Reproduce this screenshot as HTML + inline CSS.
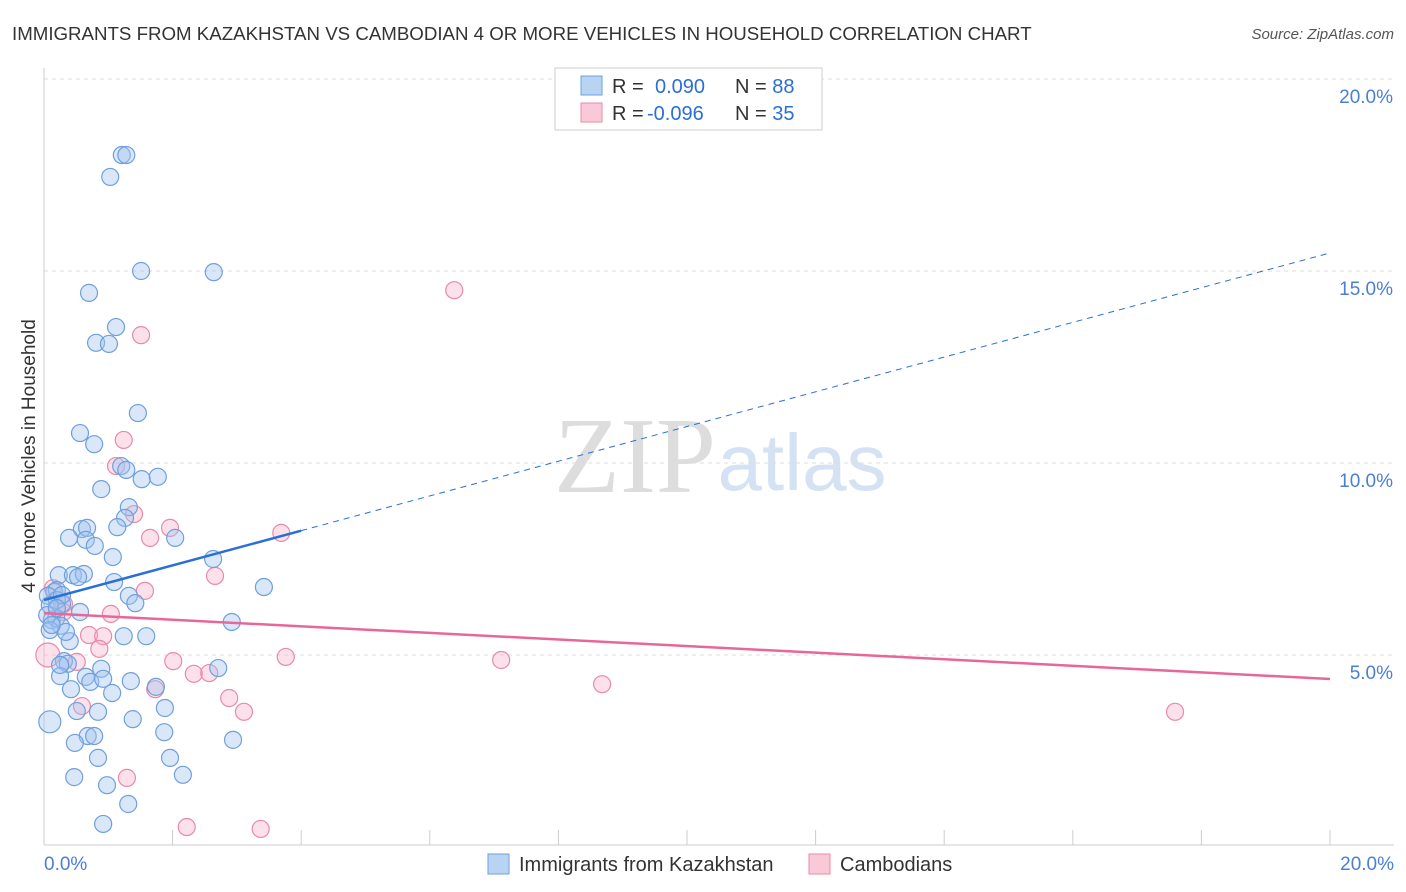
<!DOCTYPE html>
<html><head><meta charset="utf-8"><style>
body{margin:0;background:#fff;font-family:"Liberation Sans",sans-serif;}
#wrap{position:relative;width:1406px;height:892px;overflow:hidden;}
</style></head><body>
<div id="wrap">
<svg id="svg" width="1406" height="892" xmlns="http://www.w3.org/2000/svg">
<text x="12" y="40" font-size="18.7" fill="#333">IMMIGRANTS FROM KAZAKHSTAN VS CAMBODIAN 4 OR MORE VEHICLES IN HOUSEHOLD CORRELATION CHART</text>
<text x="1394" y="39" font-size="15" fill="#555" text-anchor="end" font-style="italic">Source: ZipAtlas.com</text>
<text x="35" y="456" font-size="19" fill="#333" text-anchor="middle" transform="rotate(-90 35 456)">4 or more Vehicles in Household</text>
<g>
<text x="635" y="492" font-size="108" fill="#ddd" font-family="Liberation Serif,serif" text-anchor="middle">ZIP</text>
<text x="802" y="490" font-size="80" fill="#d4e2f4" text-anchor="middle">atlas</text>
</g>
<g id="grid"></g><g id="pts"></g><g id="lines"></g>
<g>
<rect x="555" y="68" width="267" height="62" fill="#fff" stroke="#ccc"/>
<rect x="581" y="76" width="21" height="19" fill="#b9d3f3" stroke="#6fa0dc"/>
<rect x="581" y="103" width="21" height="19" fill="#f9c9d8" stroke="#e88aaa"/>
<text x="612" y="93" font-size="20" fill="#333">R = <tspan fill="#2a6fd6" x="655">0.090</tspan><tspan x="735" fill="#333">N = </tspan><tspan fill="#2a6fd6">88</tspan></text>
<text x="612" y="120" font-size="20" fill="#333">R = <tspan fill="#2a6fd6" x="647">-0.096</tspan><tspan x="735" fill="#333">N = </tspan><tspan fill="#2a6fd6">35</tspan></text>
</g>
<g>
<rect x="488" y="854" width="21" height="20" fill="#b9d3f3" stroke="#6fa0dc"/>
<text x="519" y="871" font-size="20" fill="#333">Immigrants from Kazakhstan</text>
<rect x="809" y="854" width="21" height="20" fill="#f9c9d8" stroke="#e88aaa"/>
<text x="840" y="871" font-size="20" fill="#333">Cambodians</text>
</g>
</svg>
</div>
<script>
const xTicks=[0,2,4,6,8,10,12,14,16,18,20];
const yTicks=[5,10,15,20];
const blueX=[1.21,1.28,1.03,1.51,2.64,0.70,1.12,0.81,1.01,1.46,0.56,0.78,1.20,1.28,1.52,1.77,0.89,1.32,1.26,1.14,0.59,0.67,0.39,0.65,0.79,2.04,2.63,1.07,0.23,0.45,0.62,0.53,3.42,1.09,0.16,0.20,0.06,0.28,1.32,1.42,0.56,0.12,0.19,0.26,2.92,0.40,1.24,1.59,0.31,0.37,0.89,2.71,0.25,0.65,0.72,0.92,1.35,1.74,0.42,1.06,0.84,1.88,0.51,1.38,1.87,0.68,0.78,0.48,2.94,0.09,0.84,1.96,0.47,2.16,0.98,1.31,0.92,0.20,0.09,0.28,0.05,0.09,0.34,0.25,0.12,0.20];
const blueY=[18.02,18.02,17.45,15.0,14.97,14.43,13.54,13.13,13.10,11.30,10.78,10.49,9.92,9.82,9.58,9.64,9.32,8.85,8.57,8.33,8.28,8.31,8.05,8.0,7.84,8.05,7.5,7.55,7.08,7.08,7.11,7.03,6.77,6.9,6.64,6.69,6.54,6.33,6.54,6.35,6.12,5.91,5.96,5.76,5.86,5.36,5.49,5.49,4.84,4.77,4.64,4.66,4.45,4.43,4.30,4.38,4.32,4.17,4.11,4.01,3.52,3.62,3.54,3.33,2.99,2.89,2.89,2.71,2.79,3.26,2.32,2.32,1.82,1.88,1.61,1.12,0.60,6.43,6.30,6.56,6.04,5.65,5.60,4.74,5.78,6.22];
const pinkX=[6.38,1.51,1.24,1.12,1.40,1.65,1.96,3.69,2.66,1.57,0.14,0.31,1.04,0.30,0.70,0.92,0.86,0.06,2.01,3.76,7.11,2.33,2.57,1.73,8.68,2.88,3.11,0.59,17.59,1.29,2.22,3.37,0.51];
const pinkY=[14.5,13.33,10.6,9.92,8.67,8.05,8.31,8.18,7.06,6.67,6.74,6.33,6.07,6.12,5.52,5.49,5.16,5.0,4.84,4.95,4.87,4.51,4.53,4.11,4.24,3.88,3.52,3.67,3.52,1.80,0.52,0.47,4.82];
const blueLine=[6.43,15.47];
const pinkLine=[6.09,4.375];
const bigBlue=[69], bigPink=[17];
const NS="http://www.w3.org/2000/svg";
const sx=v=>44+v*64.3, sy=v=>847-v*38.4;
function mk(tag,attrs,parent){const e=document.createElementNS(NS,tag);for(const k in attrs)e.setAttribute(k,attrs[k]);parent.appendChild(e);return e;}
const grid=document.getElementById('grid');
yTicks.forEach(t=>{
 const l=mk('line',{x1:44,x2:1394,y1:sy(t),y2:sy(t),stroke:'#ddd','stroke-dasharray':'4,4'},grid);
 
 
 const tx=mk('text',{x:1393,y:sy(t)+24,'font-size':19,fill:'#4a7fd4','text-anchor':'end'},grid);
 tx.textContent=t.toFixed(1)+'%';
 
 
});
const ax=mk('line',{x1:44,x2:44,y1:68,y2:845,stroke:'#ccc'},grid);


const bx=mk('line',{x1:44,x2:1394,y1:845,y2:845,stroke:'#ccc'},grid);


xTicks.forEach(t=>{
 const l=mk('line',{x1:sx(t),x2:sx(t),y1:830,y2:845,stroke:'#ccc'},grid);
 
 
});
[[0,'start',44],[20,'end',1394]].forEach(([t,a,x])=>{
 const tx=mk('text',{x:x,y:870,'font-size':19,fill:'#4a7fd4','text-anchor':a},grid);
 tx.textContent=t.toFixed(1)+'%';
 
 
});
const pts=document.getElementById('pts');
pinkX.forEach((x,i)=>{
 const c=mk('circle',{cx:sx(x),cy:sy(pinkY[i]),r:bigPink.includes(i)?12:8.5,fill:'rgba(245,170,195,0.35)',stroke:'#e88aaa','stroke-width':1.2},pts);
 
 
});
blueX.forEach((x,i)=>{
 const c=mk('circle',{cx:sx(x),cy:sy(blueY[i]),r:bigBlue.includes(i)?11:8.5,fill:'rgba(160,196,240,0.4)',stroke:'#6fa0dc','stroke-width':1.2},pts);
 
 
});
const lines=document.getElementById('lines');
const by=x=>blueLine[0]+(blueLine[1]-blueLine[0])*x/20;
const l1=mk('line',{x1:sx(0),y1:sy(by(0)),x2:sx(4),y2:sy(by(4)),stroke:'#2a6fd6','stroke-width':2.5},lines);


const l2=mk('line',{x1:sx(4),y1:sy(by(4)),x2:sx(20),y2:sy(by(20)),stroke:'#2a6fd6','stroke-width':1,'stroke-dasharray':'6,5'},lines);


const l3=mk('line',{x1:sx(0),y1:sy(pinkLine[0]),x2:sx(20),y2:sy(pinkLine[1]),stroke:'#e8679a','stroke-width':2.5},lines);


</script>
</body></html>
